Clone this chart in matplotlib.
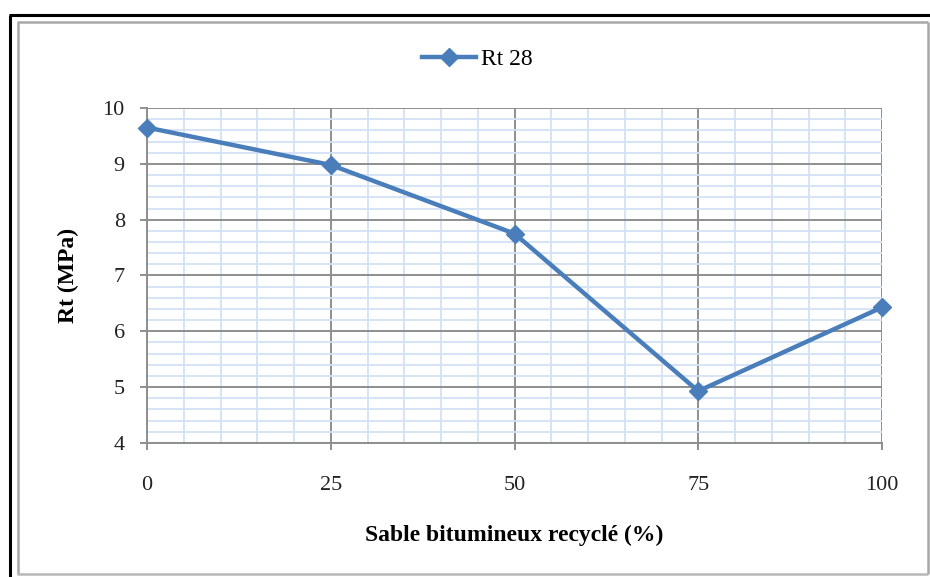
import matplotlib
matplotlib.use("Agg")
import matplotlib.pyplot as plt
from matplotlib.lines import Line2D
from matplotlib.ticker import MultipleLocator

plt.rcParams['font.family'] = ['Liberation Serif', 'DejaVu Serif']

# Recycled bituminous sand content (%) and 28-day tensile strength (MPa)
sable_pct = [0, 25, 50, 75, 100]
rt28 = [9.65, 8.98, 7.75, 4.93, 6.43]
series_label = "Rt 28"
x_label = "Sable bitumineux recyclé (%)"
y_label = "Rt (MPa)"

W, H = 930, 577
fig = plt.figure(figsize=(W / 100, H / 100), dpi=100)
fig.patch.set_facecolor("white")


def px(x, y):
    return x / W, 1 - y / H


def frame_line(x0, y0, x1, y1, color, lw):
    a, b = px(x0, y0)
    c, d = px(x1, y1)
    fig.add_artist(Line2D([a, c], [b, d], transform=fig.transFigure,
                          color=color, lw=lw, solid_capstyle="butt"))


# outer document border (black, top and left)
frame_line(9, 15, W, 15, "black", 2.2)
frame_line(10, 15, 10, H, "black", 2.2)
# chart area border (grey)
frame_line(17, 22, 928, 22, "#a8a8a8", 1.8)
frame_line(18, 22, 18, 574, "#a8a8a8", 1.8)
frame_line(928, 22, 928, 574, "#a8a8a8", 1.8)
frame_line(17, 574, 928, 574, "#b8b8b8", 1.8)

left, top = px(147, 108)
right, bottom = px(882, 443)
ax = fig.add_axes([left, bottom, right - left, top - bottom])

ax.set_xlim(0, 100)
ax.set_ylim(4, 10)
ax.xaxis.set_major_locator(MultipleLocator(25))
ax.xaxis.set_minor_locator(MultipleLocator(5))
ax.yaxis.set_major_locator(MultipleLocator(1))
ax.yaxis.set_minor_locator(MultipleLocator(0.2))

ax.grid(which="minor", color="#d3e2f4", lw=1.3)
ax.grid(which="major", color="#8e8e8e", lw=1.4)
ax.set_axisbelow(True)

for side in ("top", "right"):
    ax.spines[side].set_visible(False)
for side in ("left", "bottom"):
    ax.spines[side].set_color("#8e8e8e")
    ax.spines[side].set_linewidth(1.4)

ax.tick_params(which="major", direction="out", length=5, width=1.4,
               color="#8e8e8e", labelsize=16, labelcolor="#222222")
ax.tick_params(axis="y", which="major", pad=11)
ax.tick_params(axis="x", which="major", pad=19)
ax.tick_params(which="minor", length=0)

ax.plot(sable_pct, rt28, color="#4a7ebb", lw=3.2, marker="D",
        markersize=9.5, markerfacecolor="#4a7ebb", markeredgecolor="#4a7ebb",
        label=series_label, clip_on=False, zorder=5)

ax.set_xlabel(x_label, fontsize=17, fontweight="bold", labelpad=21)
ax.set_ylabel(y_label, fontsize=17, fontweight="bold", labelpad=17)

lx, ly = px(477, 59)
fig.legend(loc="center", bbox_to_anchor=(lx, ly), frameon=False,
           fontsize=17, handlelength=2.3, handletextpad=0.2)

fig.savefig("out.png", dpi=100, facecolor="white")
